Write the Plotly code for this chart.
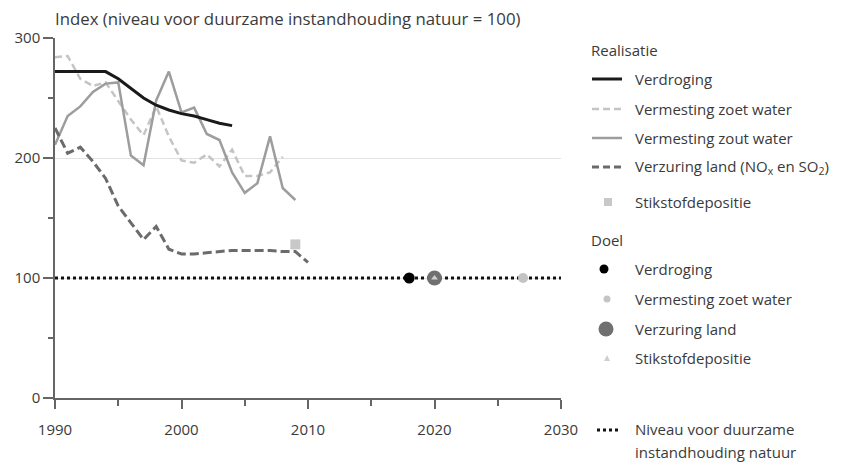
import plotly.graph_objects as go

# ---------------- data ----------------
years_verdroging = list(range(1990, 2005))
verdroging = [272, 272, 272, 272, 272, 266, 258, 250, 244, 240, 237, 235, 232, 229, 227]

years_zoet = list(range(1990, 2009))
zoet_water = [284, 285, 266, 260, 263, 247, 232, 219, 243, 218, 198, 196, 203, 193, 207, 185, 185, 188, 201]

years_zout = list(range(1990, 2010))
zout_water = [211, 235, 243, 255, 262, 263, 202, 194, 248, 272, 238, 242, 220, 215, 188, 171, 179, 218, 175, 165]

years_verzuring = list(range(1990, 2011))
verzuring = [225, 204, 209, 197, 183, 160, 146, 132, 143, 124, 120, 120, 121, 122, 123, 123, 123, 123, 122, 122, 113]

stikstof_year = [2009]
stikstof = [128]

doel_verdroging_year, doel_verdroging = [2018], [100]
doel_zoet_year, doel_zoet = [2027], [100]
doel_verzuring_year, doel_verzuring = [2020], [100]
doel_stikstof_year, doel_stikstof = [2020], [100]

niveau_years = [1990, 2030]
niveau = [100, 100]

x_ticks = [1990, 2000, 2010, 2020, 2030]
y_ticks = [0, 100, 200, 300]

FONT = "Open Sans"
TXT = "#3a3a3a"
DASH_ZOET = "7px,4px"
DASH_VERZ = "9px,4px"

fig = go.Figure()

fig.add_trace(go.Scatter(x=niveau_years, y=niveau, mode="lines",
                         line=dict(color="#111111", width=3, dash="dot"), showlegend=False))
fig.add_trace(go.Scatter(x=years_zoet, y=zoet_water, mode="lines",
                         line=dict(color="#c4c4c4", width=2.5, dash=DASH_ZOET), showlegend=False))
fig.add_trace(go.Scatter(x=years_zout, y=zout_water, mode="lines",
                         line=dict(color="#9d9d9d", width=2.5), showlegend=False))
fig.add_trace(go.Scatter(x=years_verzuring, y=verzuring, mode="lines",
                         line=dict(color="#6b6b6b", width=3, dash=DASH_VERZ), showlegend=False))
fig.add_trace(go.Scatter(x=years_verdroging, y=verdroging, mode="lines",
                         line=dict(color="#1a1a1a", width=3), showlegend=False))
fig.add_trace(go.Scatter(x=stikstof_year, y=stikstof, mode="markers",
                         marker=dict(symbol="square", color="#c8c8c8", size=10), showlegend=False))
fig.add_trace(go.Scatter(x=doel_verdroging_year, y=doel_verdroging, mode="markers",
                         marker=dict(color="#000000", size=11), showlegend=False))
fig.add_trace(go.Scatter(x=doel_zoet_year, y=doel_zoet, mode="markers",
                         marker=dict(color="#c4c4c4", size=10), showlegend=False))
fig.add_trace(go.Scatter(x=doel_verzuring_year, y=doel_verzuring, mode="markers",
                         marker=dict(color="#707070", size=15), showlegend=False))
fig.add_trace(go.Scatter(x=doel_stikstof_year, y=doel_stikstof, mode="markers",
                         marker=dict(symbol="triangle-up", color="#cfcfcf", size=6), showlegend=False))

L, T, W, H = 55, 38, 506, 360


def px(x):
    return (x - L) / W


def py(y):
    return (T + H - y) / H


shapes = []
annotations = []


def text(x, y, s, size=15):
    annotations.append(dict(x=px(x), y=py(y), xref="paper", yref="paper", text=s,
                            showarrow=False, xanchor="left", yanchor="middle",
                            font=dict(family=FONT, size=size, color=TXT)))


def lsym(y, color, width, dash):
    shapes.append(dict(type="line", xref="paper", yref="paper", x0=px(592), x1=px(622),
                       y0=py(y), y1=py(y), line=dict(color=color, width=width, dash=dash)))


def csym(x, y, d, color):
    shapes.append(dict(type="circle", xref="paper", yref="paper", x0=px(x - d / 2), x1=px(x + d / 2),
                       y0=py(y + d / 2), y1=py(y - d / 2), fillcolor=color, line=dict(width=0)))


# Legend: Realisatie
text(589, 50, "Realisatie")
lsym(79, "#1a1a1a", 3, "solid"); text(633, 79, "Verdroging")
lsym(109, "#c4c4c4", 2.5, DASH_ZOET); text(633, 109, "Vermesting zoet water")
lsym(138, "#9d9d9d", 2.5, "solid"); text(633, 138, "Vermesting zout water")
lsym(167, "#6b6b6b", 3, "7px,4px"); text(633, 167, "Verzuring land (NO<sub>x</sub> en SO<sub>2</sub>)")
shapes.append(dict(type="rect", xref="paper", yref="paper", x0=px(604), x1=px(612),
                   y0=py(206), y1=py(198), fillcolor="#c8c8c8", line=dict(width=0)))
text(633, 202, "Stikstofdepositie")

# Legend: Doel
text(589, 240, "Doel")
csym(604, 269, 9, "#000000"); text(633, 269, "Verdroging")
csym(607, 299, 7, "#c4c4c4"); text(633, 299, "Vermesting zoet water")
csym(606, 329, 15, "#707070"); text(633, 329, "Verzuring land")
shapes.append(dict(type="path", xref="paper", yref="paper",
                   path=f"M {px(604)} {py(361)} L {px(610)} {py(361)} L {px(607)} {py(355)} Z",
                   fillcolor="#cfcfcf", line=dict(width=0)))
text(633, 358, "Stikstofdepositie")

shapes.append(dict(type="line", xref="paper", yref="paper", x0=px(597), x1=px(621),
                   y0=py(430), y1=py(430), line=dict(color="#111111", width=3, dash="dot")))
text(633, 429, "Niveau voor duurzame")
text(633, 452, "instandhouding natuur")

# title
annotations.append(dict(x=px(53), y=py(19), xref="paper", yref="paper",
                        text="Index (niveau voor duurzame instandhouding natuur = 100)",
                        showarrow=False, xanchor="left", yanchor="middle",
                        font=dict(family=FONT, size=16.8, color=TXT)))

fig.update_layout(
    width=857, height=465,
    margin=dict(l=L, r=857 - L - W, t=T, b=465 - T - H),
    paper_bgcolor="white", plot_bgcolor="white",
    font=dict(family=FONT, size=15, color=TXT),
    showlegend=False,
    shapes=shapes, annotations=annotations,
    xaxis=dict(range=[1990, 2030], tickvals=x_ticks, ticks="outside", ticklen=9, tickwidth=1.5,
               tickcolor="#666666", showline=True, linecolor="#666666", linewidth=1.5,
               showgrid=False, zeroline=False, ticklabelstandoff=8,
               minor=dict(dtick=5, ticks="outside", ticklen=6, tickcolor="#666666", tickwidth=1.5,
                          showgrid=False),
               tickfont=dict(family=FONT, size=15, color=TXT)),
    yaxis=dict(range=[0, 300], tickvals=y_ticks, ticks="outside", ticklen=10, tickwidth=1.5,
               tickcolor="#666666", showline=True, linecolor="#666666", linewidth=1.5,
               showgrid=True, gridcolor="#e2e2e2", gridwidth=1, zeroline=False,
               minor=dict(dtick=50, ticks="outside", ticklen=5, tickcolor="#666666", tickwidth=1.5,
                          showgrid=False),
               tickfont=dict(family=FONT, size=15, color=TXT)),
)

fig.write_html("out.html", config={"displayModeBar": False},
               post_script="document.body.style.margin='0';")
